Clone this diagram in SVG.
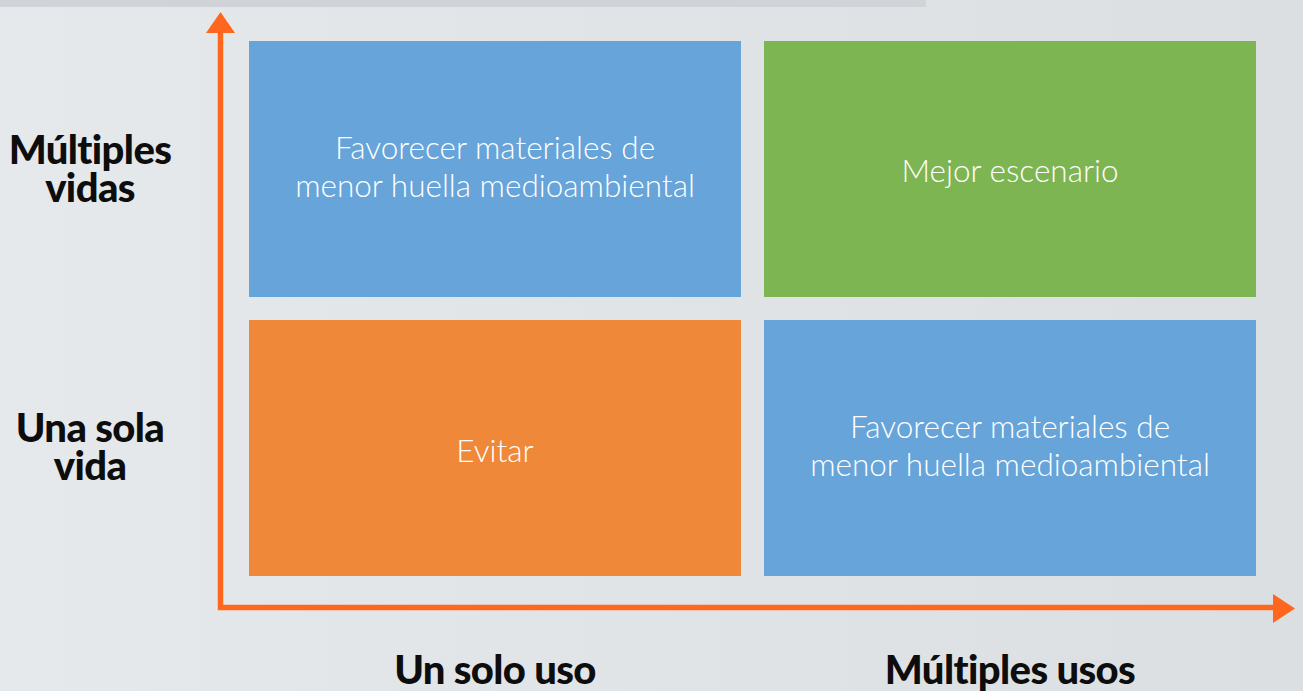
<svg xmlns="http://www.w3.org/2000/svg" width="1303" height="691" viewBox="0 0 1303 691">
<defs>
<linearGradient id="bg" x1="0" y1="0" x2="1" y2="0">
<stop offset="0" stop-color="#e6e9ec"/>
<stop offset="1" stop-color="#dcdfe2"/>
</linearGradient>
<style>
.axis{font-family:Lato,"Liberation Sans",sans-serif;font-weight:900;font-size:40px;fill:#0d0d0d;letter-spacing:-0.6px;text-anchor:middle}
.box text{font-family:Lato,"Liberation Sans",sans-serif;font-weight:300;font-size:31.5px;fill:#ffffff;text-anchor:middle}
.ax{stroke:#ff671f;stroke-width:5.5;fill:none}
.head{fill:#ff671f}
</style>
</defs>
<rect width="1303" height="691" fill="url(#bg)"/>
<rect x="0" y="0" width="926" height="7" fill="#d0d4d8"/>
<g id="connectors">
<path class="ax" d="M220.5 32 V607.5 H1275"/>
<polygon class="head" points="220.5,12 235,33 206,33"/>
<polygon class="head" points="1295,608.5 1273,594 1273,623"/>
</g>
<g id="q1" class="box"><rect x="249" y="41" width="492" height="256" fill="#66a4d9"/><text x="495" y="159">Favorecer materiales de</text><text x="495" y="197">menor huella medioambiental</text></g>
<g id="q2" class="box"><rect x="764" y="41" width="492" height="256" fill="#7cb552"/><text x="1010" y="182">Mejor escenario</text></g>
<g id="q3" class="box"><rect x="249" y="320" width="492" height="256" fill="#f0883a"/><text x="495" y="462">Evitar</text></g>
<g id="q4" class="box"><rect x="764" y="320" width="492" height="256" fill="#66a4d9"/><text x="1010" y="438">Favorecer materiales de</text><text x="1010" y="476">menor huella medioambiental</text></g>
<g id="ylabels">
<text class="axis" x="90" y="164">Múltiples</text>
<text class="axis" x="90" y="202">vidas</text>
<text class="axis" x="90" y="442">Una sola</text>
<text class="axis" x="90" y="480">vida</text>
</g>
<g id="xlabels">
<text class="axis" x="495" y="684">Un solo uso</text>
<text class="axis" x="1010" y="684">Múltiples usos</text>
</g>
</svg>
